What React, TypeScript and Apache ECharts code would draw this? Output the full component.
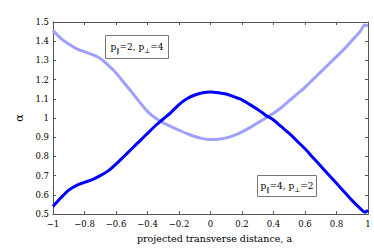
import React, { useEffect, useRef } from 'react';
import * as echarts from 'echarts';

const xs = [-1, -0.95, -0.9, -0.85, -0.8, -0.75, -0.7, -0.65, -0.6, -0.55, -0.5, -0.45, -0.4, -0.35, -0.3, -0.25, -0.2, -0.15, -0.1, -0.05, 0, 0.05, 0.1, 0.15, 0.2, 0.25, 0.3, 0.35, 0.4, 0.45, 0.5, 0.55, 0.6, 0.65, 0.7, 0.75, 0.8, 0.85, 0.9, 0.95, 0.98, 1.0];

// p_par=4, p_perp=2 (dark blue)
const alphaDark = [0.54, 0.585, 0.625, 0.65, 0.665, 0.68, 0.70, 0.725, 0.76, 0.80, 0.84, 0.88, 0.92, 0.96, 0.995, 1.03, 1.07, 1.10, 1.12, 1.132, 1.135, 1.132, 1.125, 1.11, 1.095, 1.07, 1.045, 1.015, 0.99, 0.955, 0.92, 0.88, 0.84, 0.795, 0.75, 0.705, 0.66, 0.615, 0.57, 0.53, 0.51, 0.52];

// p_par=2, p_perp=4 (light blue)
const alphaLight = [1.455, 1.415, 1.385, 1.36, 1.345, 1.33, 1.31, 1.275, 1.235, 1.185, 1.135, 1.083, 1.035, 1.0, 0.975, 0.955, 0.937, 0.919, 0.904, 0.893, 0.888, 0.89, 0.897, 0.91, 0.928, 0.95, 0.975, 1.0, 1.025, 1.055, 1.09, 1.125, 1.16, 1.2, 1.24, 1.28, 1.32, 1.36, 1.405, 1.45, 1.485, 1.48];

const xLabel = 'projected transverse distance, a';
const yLabel = 'α';

const FONT = 'DejaVu Serif';
const AXIS = '#555';

export default function App() {
  const ref = useRef<HTMLDivElement>(null);
  useEffect(() => {
    document.body.style.margin = '0';
    const chart = echarts.init(ref.current!, null, { renderer: 'svg' });
    const fmtX = (v: number) => {
      const r = Math.round(v * 10) / 10;
      return String(r).replace('-', '\u2212');
    };
    const fmtY = (v: number) => String(Math.round(v * 10) / 10);
    const rich = {
      n: { fontFamily: FONT, fontSize: 9, color: '#000', verticalAlign: 'middle', lineHeight: 14 },
      s: { fontFamily: FONT, fontSize: 6.5, color: '#000', verticalAlign: 'bottom', lineHeight: 14 },
    };
    chart.setOption({
      animation: false,
      textStyle: { fontFamily: FONT },
      grid: { left: 53, right: 6, top: 22, bottom: 27 },
      xAxis: [
        {
          type: 'value', min: -1, max: 1, interval: 0.2,
          name: xLabel, nameLocation: 'middle', nameGap: 17,
          nameTextStyle: { fontFamily: FONT, fontSize: 9.5, color: '#000', padding: [0, 0, 0, 8] },
          axisLine: { onZero: false, lineStyle: { color: AXIS, width: 1 } },
          axisTick: { inside: true, length: 3, lineStyle: { color: AXIS } },
          axisLabel: { formatter: fmtX, fontFamily: FONT, fontSize: 8.5, color: '#000', margin: 5 },
          splitLine: { show: false },
        },
        {
          type: 'value', min: -1, max: 1, interval: 0.2, position: 'top',
          axisLine: { onZero: false, lineStyle: { color: AXIS, width: 1 } },
          axisTick: { inside: true, length: 3, lineStyle: { color: AXIS } },
          axisLabel: { show: false },
          splitLine: { show: false },
        },
      ],
      yAxis: [
        {
          type: 'value', min: 0.5, max: 1.5, interval: 0.1,
          name: yLabel, nameLocation: 'middle', nameGap: 23,
          nameTextStyle: { fontFamily: FONT, fontSize: 11, color: '#000' },
          axisLine: { show: true, onZero: false, lineStyle: { color: AXIS, width: 1 } },
          axisTick: { show: true, inside: true, length: 3, lineStyle: { color: AXIS } },
          axisLabel: { formatter: fmtY, fontFamily: FONT, fontSize: 8.5, color: '#000', margin: 4 },
          splitLine: { show: false },
        },
        {
          type: 'value', min: 0.5, max: 1.5, interval: 0.1, position: 'right',
          axisLine: { show: true, onZero: false, lineStyle: { color: AXIS, width: 1 } },
          axisTick: { show: true, inside: true, length: 3, lineStyle: { color: AXIS } },
          axisLabel: { show: false },
          splitLine: { show: false },
        },
      ],
      series: [
        {
          type: 'line', smooth: 0.3, showSymbol: false, clip: false,
          data: xs.map((x, i) => [x, alphaLight[i]]),
          lineStyle: { color: '#a0a0ff', width: 3 },
        },
        {
          type: 'line', smooth: 0.3, showSymbol: false, clip: false,
          data: xs.map((x, i) => [x, alphaDark[i]]),
          lineStyle: { color: '#0000ff', width: 3 },
        },
      ],
      graphic: [
        { type: 'rect', shape: { x: 105.5, y: 35.5, width: 63, height: 23 }, style: { fill: '#fff', stroke: '#777', lineWidth: 1 }, z: 10 },
        {
          type: 'text', x: 137, y: 47, z: 11,
          style: { text: '{n|p}{s|\u2016}{n|=2, p}{s|⊥}{n|=4}', rich, fill: '#000', align: 'center', verticalAlign: 'middle' },
        },
        { type: 'rect', shape: { x: 257.5, y: 175.5, width: 59, height: 21 }, style: { fill: '#fff', stroke: '#777', lineWidth: 1 }, z: 10 },
        {
          type: 'text', x: 287, y: 186, z: 11,
          style: { text: '{n|p}{s|\u2016}{n|=4, p}{s|⊥}{n|=2}', rich, fill: '#000', align: 'center', verticalAlign: 'middle' },
        },
      ],
    });
    return () => chart.dispose();
  }, []);
  return <div ref={ref} style={{ width: 374, height: 248 }} />;
}
